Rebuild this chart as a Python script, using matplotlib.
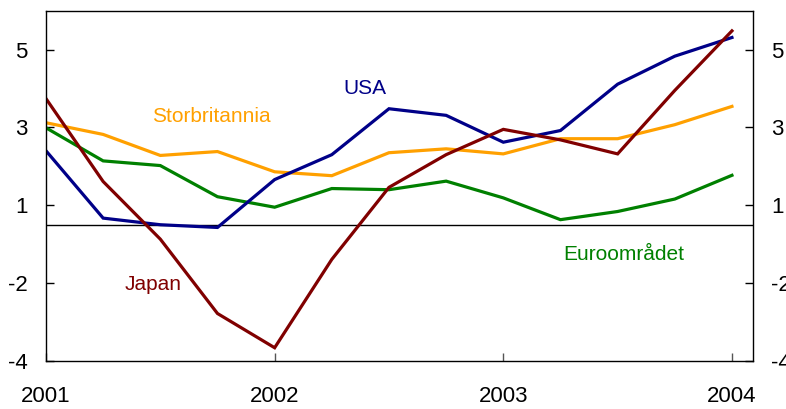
import matplotlib
matplotlib.use("Agg")
import matplotlib.pyplot as plt
import numpy as np

plt.rcParams['font.family'] = ['Liberation Sans', 'DejaVu Sans']

# Kvartal från 2001 till 2004
quarters = 2001 + np.arange(13) * 0.25

usa = [2.40, 0.67, 0.50, 0.43, 1.66, 2.30, 3.48, 3.31, 2.62, 2.92, 4.11, 4.83, 5.31]
storbritannia = [3.12, 2.82, 2.28, 2.38, 1.86, 1.76, 2.35, 2.45, 2.32, 2.71, 2.71, 3.07, 3.54]
euroomradet = [2.99, 2.14, 2.02, 1.22, 0.95, 1.43, 1.40, 1.62, 1.19, 0.63, 0.84, 1.16, 1.77]
japan = [3.74, 1.61, 0.13, -1.78, -2.66, -0.39, 1.46, 2.30, 2.95, 2.68, 2.32, 3.95, 5.48]

ytick_pos = [5, 3, 1, -1, -3]
ytick_labels = ["5", "3", "1", "-2", "-4"]
xtick_pos = [2001, 2002, 2003, 2004]
xtick_labels = ["2001", "2002", "2003", "2004"]
ref_line = 0.5

colors = {
    "USA": "#000088",
    "Storbritannia": "#ffa000",
    "Euroområdet": "#008000",
    "Japan": "#800000",
}

W, H = 786, 409
fig = plt.figure(figsize=(W / 100, H / 100), dpi=100, facecolor='white')
ax = fig.add_axes([0.0585, 0.1174, 0.8995, 0.8566])

ax.axhline(ref_line, color='black', linewidth=1.0, zorder=1)

series = [("Storbritannia", storbritannia), ("Euroområdet", euroomradet),
          ("USA", usa), ("Japan", japan)]
for name, vals in series:
    ax.plot(quarters, vals, color=colors[name], linewidth=2.3,
            solid_joinstyle='miter', zorder=2)

# Etiketter direkt i diagrammet (pixelposition från övre vänstra hörnet)
labels = [("USA", 365, 89), ("Storbritannia", 211, 117),
          ("Euroområdet", 624, 254), ("Japan", 153, 285)]
for name, px, py in labels:
    fig.text(px / W, 1 - py / H, name, color=colors[name],
             fontsize=15, ha="center", va="center")

ax.set_xlim(2001, 2004.092)
ax.set_ylim(-3, 6)

ax.set_xticks(xtick_pos)
ax.set_xticklabels(xtick_labels)
ax.set_yticks(ytick_pos)
ax.set_yticklabels(ytick_labels)

ax.tick_params(axis='y', direction='in', length=6, width=1, labelsize=16,
               pad=13, left=True, right=True, labelleft=True, labelright=True)
ax.tick_params(axis='x', direction='in', length=6, width=1, labelsize=16,
               pad=18, color='#555555')

for sp in ax.spines.values():
    sp.set_linewidth(1.0)

fig.savefig("out.png", dpi=100, facecolor='white')
